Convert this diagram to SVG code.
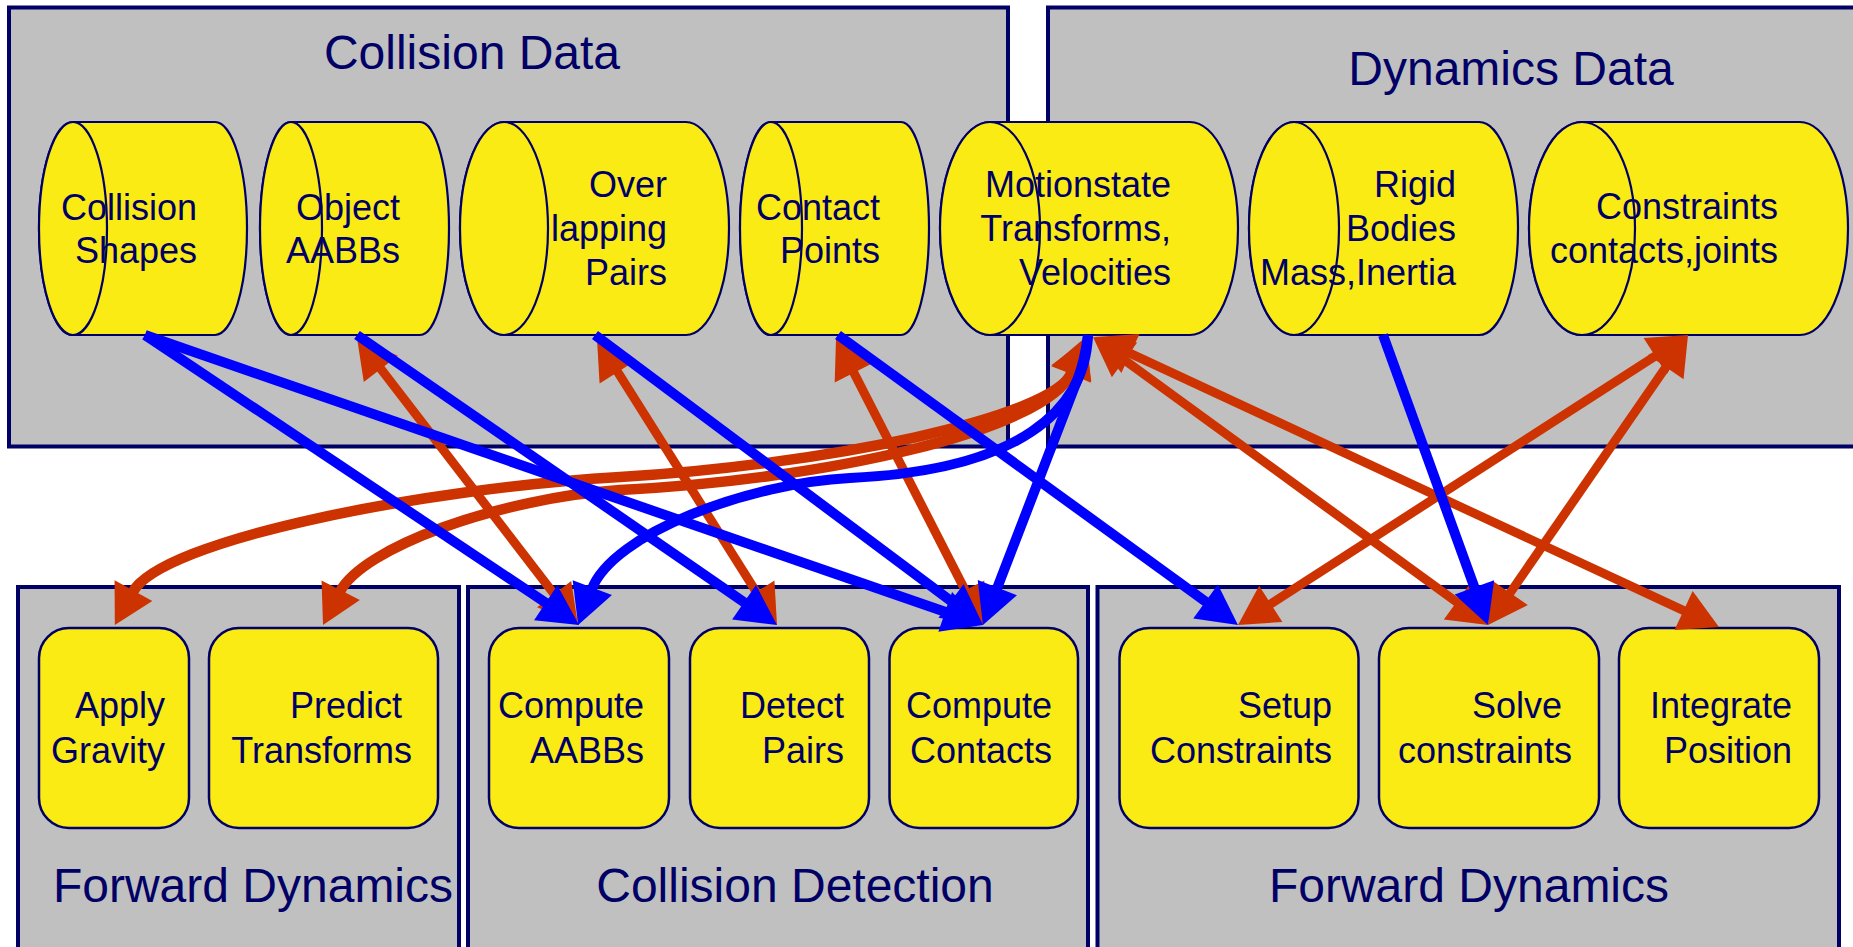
<svg xmlns="http://www.w3.org/2000/svg" width="1853" height="947" viewBox="0 0 1853 947">
<style>
.panel{fill:#c0c0c0;stroke:#000066;stroke-width:4}
.cyl{fill:#faeb14;stroke:#000066;stroke-width:2.2}
.box{fill:#faeb14;stroke:#000066;stroke-width:2.5}
text{font-family:"Liberation Sans",Arial,sans-serif;fill:#000066}
.t{font-size:36px;text-anchor:end}
.h{font-size:48px;text-anchor:middle}
.red{fill:none;stroke:#cc3300;stroke-width:9;marker-start:url(#rh);marker-end:url(#rh)}
.curve{stroke-width:10.5}
.blue{fill:none;stroke:#0000ff;stroke-width:10;marker-end:url(#bh)}
</style>
<defs>
<marker id="bh" markerUnits="userSpaceOnUse" markerWidth="40" markerHeight="44" refX="0" refY="0" orient="auto-start-reverse" overflow="visible"><path d="M-2,-21 L38,0 L-2,21 z" fill="#0000ff"/></marker>
<marker id="rh" markerUnits="userSpaceOnUse" markerWidth="40" markerHeight="44" refX="0" refY="0" orient="auto-start-reverse" overflow="visible"><path d="M-2,-21.5 L37,0 L-2,21.5 z" fill="#cc3300"/></marker>
</defs>
<rect width="1853" height="947" fill="#ffffff"/>
<g id="collision-data"><rect class="panel" x="9" y="7.5" width="999" height="439"/><text class="h" x="472" y="69">Collision Data</text></g>
<g id="dynamics-data"><rect class="panel" x="1048" y="7.5" width="900" height="439"/><text class="h" x="1511" y="85">Dynamics Data</text></g>
<g id="forward-dynamics-left"><rect class="panel" x="18" y="587" width="441" height="400"/><text class="h" x="253" y="902">Forward Dynamics</text></g>
<g id="collision-detection"><rect class="panel" x="468" y="587" width="620" height="400"/><text class="h" x="795" y="902">Collision Detection</text></g>
<g id="forward-dynamics-right"><rect class="panel" x="1097.5" y="587" width="741.5" height="400"/><text class="h" x="1469" y="902">Forward Dynamics</text></g>

<g id="collision-shapes"><path class="cyl" d="M73,122 L215,122 A32,106.5 0 0 1 215,335 L73,335 A34,106.5 0 0 1 73,122 z"/><ellipse class="cyl" cx="73" cy="228.5" rx="34" ry="106.5"/><text class="t" x="197" y="220">Collision</text><text class="t" x="197" y="263">Shapes</text></g>
<g id="object-aabbs"><path class="cyl" d="M291,122 L420,122 A29,106.5 0 0 1 420,335 L291,335 A31,106.5 0 0 1 291,122 z"/><ellipse class="cyl" cx="291" cy="228.5" rx="31" ry="106.5"/><text class="t" x="400" y="220">Object</text><text class="t" x="400" y="263">AABBs</text></g>
<g id="overlapping-pairs"><path class="cyl" d="M504,122 L686,122 A43,106.5 0 0 1 686,335 L504,335 A44,106.5 0 0 1 504,122 z"/><ellipse class="cyl" cx="504" cy="228.5" rx="44" ry="106.5"/><text class="t" x="667" y="197">Over</text><text class="t" x="667" y="241">lapping</text><text class="t" x="667" y="285">Pairs</text></g>
<g id="contact-points"><path class="cyl" d="M771,122 L901,122 A28,106.5 0 0 1 901,335 L771,335 A31,106.5 0 0 1 771,122 z"/><ellipse class="cyl" cx="771" cy="228.5" rx="31" ry="106.5"/><text class="t" x="880" y="220">Contact</text><text class="t" x="880" y="263">Points</text></g>
<g id="motionstate"><path class="cyl" d="M990,122 L1190,122 A48,106.5 0 0 1 1190,335 L990,335 A50,106.5 0 0 1 990,122 z"/><ellipse class="cyl" cx="990" cy="228.5" rx="50" ry="106.5"/><text class="t" x="1171" y="197">Motionstate</text><text class="t" x="1171" y="241">Transforms,</text><text class="t" x="1171" y="285">Velocities</text></g>
<g id="rigid-bodies"><path class="cyl" d="M1294,122 L1479,122 A39,106.5 0 0 1 1479,335 L1294,335 A45,106.5 0 0 1 1294,122 z"/><ellipse class="cyl" cx="1294" cy="228.5" rx="45" ry="106.5"/><text class="t" x="1456" y="197">Rigid</text><text class="t" x="1456" y="241">Bodies</text><text class="t" x="1456" y="285">Mass,Inertia</text></g>
<g id="constraints"><path class="cyl" d="M1582,122 L1800,122 A48,106.5 0 0 1 1800,335 L1582,335 A53,106.5 0 0 1 1582,122 z"/><ellipse class="cyl" cx="1582" cy="228.5" rx="53" ry="106.5"/><text class="t" x="1778" y="219">Constraints</text><text class="t" x="1778" y="263">contacts,joints</text></g>

<g id="apply-gravity"><rect class="box" x="39" y="628" width="150" height="200" rx="30"/><text class="t" x="165" y="718">Apply</text><text class="t" x="165" y="763">Gravity</text></g>
<g id="predict-transforms"><rect class="box" x="209" y="628" width="229" height="200" rx="30"/><text class="t" x="402" y="718">Predict</text><text class="t" x="412" y="763">Transforms</text></g>
<g id="compute-aabbs"><rect class="box" x="489" y="628" width="180" height="200" rx="30"/><text class="t" x="644" y="718">Compute</text><text class="t" x="644" y="763">AABBs</text></g>
<g id="detect-pairs"><rect class="box" x="690" y="628" width="179" height="200" rx="30"/><text class="t" x="844" y="718">Detect</text><text class="t" x="844" y="763">Pairs</text></g>
<g id="compute-contacts"><rect class="box" x="889.5" y="628" width="188.5" height="200" rx="30"/><text class="t" x="1052" y="718">Compute</text><text class="t" x="1052" y="763">Contacts</text></g>
<g id="setup-constraints"><rect class="box" x="1119.5" y="628" width="239" height="200" rx="30"/><text class="t" x="1332" y="718">Setup</text><text class="t" x="1332" y="763">Constraints</text></g>
<g id="solve-constraints"><rect class="box" x="1379" y="628" width="220" height="200" rx="30"/><text class="t" x="1562" y="718">Solve</text><text class="t" x="1572" y="763">constraints</text></g>
<g id="integrate-position"><rect class="box" x="1619" y="628" width="200" height="200" rx="30"/><text class="t" x="1792" y="718">Integrate</text><text class="t" x="1792" y="763">Position</text></g>

<g id="connectors">
<path class="red" d="M379.6,367.3 L555.4,595.7"/>
<path class="red" d="M616.7,370.3 L757.3,593.7"/>
<path class="red" d="M852.9,370.9 L966.1,592.1"/>
<path class="red curve" d="M132.5,592.4 C161,540 420,489 620,477 C820,465 1054,418.8 1072,372"/>
<path class="red curve" d="M339.8,592 C362.5,547.4 500,498 620,490 C820,480 1045,432 1072,372"/>
<path class="red" d="M1122.9,358.8 L1458.1,603.2"/>
<path class="red" d="M1128.6,352.6 L1685.4,611.4"/>
<path class="red" d="M1656.9,355 L1269.1,605"/>
<path class="red" d="M1667,365.5 L1509,594.5"/>
<path class="blue" d="M145,335 L547.4,603.9"/>
<path class="blue" d="M145,335 L947.1,612.6"/>
<path class="blue" d="M357,335 L745.7,603.4"/>
<path class="blue" d="M595,335 L952.6,602.2"/>
<path class="blue" d="M838,335 L1207.2,602.7"/>
<path class="blue" d="M1088,335 Q1085,359 1078,378 L996.6,589.5"/>
<path class="blue" d="M1088,335 C1085,410 1020,470 850,478 C750,483 613,533 591.6,589.5"/>
<path class="blue" d="M1383,335 L1475.1,589.3"/>
</g>
</svg>
